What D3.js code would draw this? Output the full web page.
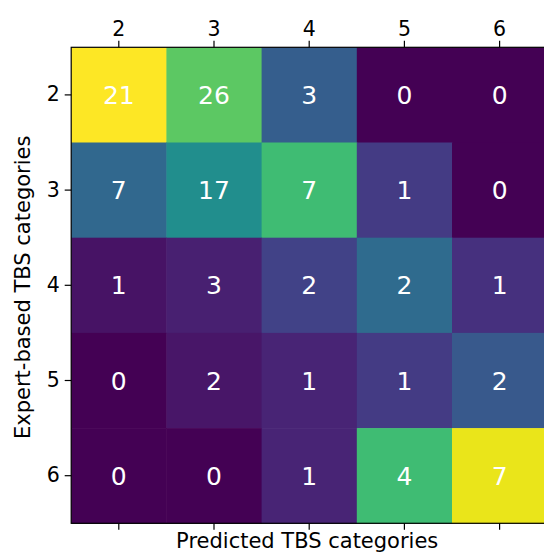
<!DOCTYPE html>
<html>
<head>
<meta charset="utf-8">
<script src="https://cdn.jsdelivr.net/npm/d3@7"></script>
<style>
  body { margin: 0; background: #fff; }
  svg text { font-family: "DejaVu Sans", sans-serif; }
</style>
</head>
<body>
<svg id="cm_svg" width="544" height="553"></svg>
<script>
  // categories (expert = rows, predicted = columns)
  var categories = [2, 3, 4, 5, 6];
  // counts per expert-based row
  var row2 = [21, 26, 3, 0, 0];
  var row3 = [7, 17, 7, 1, 0];
  var row4 = [1, 3, 2, 2, 1];
  var row5 = [0, 2, 1, 1, 2];
  var row6 = [0, 0, 1, 4, 7];
  var counts = [row2, row3, row4, row5, row6];

  (function () {
      var svg = d3.select("svg#cm_svg");
      var left = 71.2, top = 47.3, size = 476;

      // colour is the count normalised by its predicted column
      var colSums = categories.map(function (c, j) {
          return d3.sum(counts, function (r) { return r[j]; });
      });
      var cells = [];
      counts.forEach(function (r, i) {
          r.forEach(function (v, j) {
              cells.push({row: categories[i], col: categories[j], v: v, n: v / colSums[j]});
          });
      });
      var color = d3.scaleSequential(d3.interpolateViridis)
          .domain([0, d3.max(cells, d => d.n)]);

      var x = d3.scaleBand().domain(categories).range([left, left + size]);
      var y = d3.scaleBand().domain(categories).range([top, top + size]);

      svg.append("g").selectAll("rect").data(cells).enter().append("rect")
          .attr("x", d => x(d.col)).attr("y", d => y(d.row))
          .attr("width", x.bandwidth() + 0.5).attr("height", y.bandwidth() + 0.5)
          .attr("fill", d => color(d.n));

      svg.append("g").selectAll("text").data(cells).enter().append("text")
          .attr("x", d => x(d.col) + x.bandwidth() / 2)
          .attr("y", d => y(d.row) + y.bandwidth() / 2)
          .attr("text-anchor", "middle").attr("dy", "0.36em")
          .attr("fill", "#fff").attr("font-size", 25)
          .text(d => d.v);

      // frame
      svg.append("rect").attr("x", left).attr("y", top)
          .attr("width", size).attr("height", size)
          .attr("fill", "none").attr("stroke", "#000").attr("stroke-width", 1.2);

      function style(g) {
          g.select(".domain").remove();
          g.selectAll(".tick line").attr("stroke", "#000").attr("stroke-width", 1.2);
          g.selectAll(".tick text").attr("font-size", 20.5).attr("fill", "#000")
              .attr("font-family", "DejaVu Sans, sans-serif");
      }
      svg.append("g").attr("transform", "translate(0," + top + ")")
          .call(d3.axisTop(x).tickSize(6.5).tickPadding(5)).call(style);
      svg.append("g").attr("transform", "translate(0," + (top + size) + ")")
          .call(d3.axisBottom(x).tickSize(6.5).tickFormat("")).call(style);
      svg.append("g").attr("transform", "translate(" + left + ",0)")
          .call(d3.axisLeft(y).tickSize(6.5).tickPadding(5)).call(style);

      svg.append("text").attr("x", left + size / 2 - 2).attr("y", 548)
          .attr("text-anchor", "middle").attr("font-size", 21)
          .text("Predicted TBS categories");
      svg.append("text")
          .attr("transform", "translate(30," + (top + size / 2 + 2) + ") rotate(-90)")
          .attr("text-anchor", "middle").attr("font-size", 21)
          .text("Expert-based TBS categories");
  })();
</script>
</body>
</html>
